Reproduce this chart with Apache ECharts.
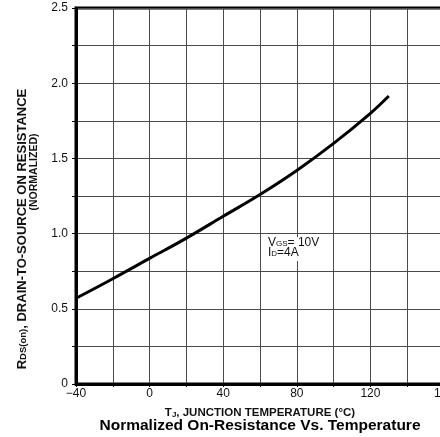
<!DOCTYPE html>
<html>
<head>
<meta charset="utf-8">
<script src="https://cdn.jsdelivr.net/npm/echarts@6/dist/echarts.min.js"></script>
<style>
  html, body {margin:0;padding:0;background:#fff;}
  #chart {width:440px;height:437px;}
</style>
</head>
<body>
<div id="chart"></div>
<script>
// junction temperature (°C) and normalized Rds(on)
const temps = [-40, -20, 0, 20, 40, 60, 80, 100, 120, 130];
const rdsOn = [0.57, 0.70, 0.835, 0.97, 1.115, 1.26, 1.42, 1.60, 1.80, 1.915];
const xLabels = ['\u221240', '0', '40', '80', '120', '160'];
const yLabels = ['0', '0.5', '1.0', '1.5', '2.0', '2.5'];

const FONT = '"Liberation Sans", Arial, sans-serif';

let chart = echarts.init(document.getElementById('chart'), null, {renderer: 'canvas'});

const txt = (size, bold) => ({
    fontFamily: FONT, fontSize: size, fontWeight: bold ? 'bold' : 'normal', color: '#111', lineHeight: 12
});
const sub = (size, bold) => Object.assign(txt(size, bold), {verticalAlign: 'bottom'});

let option = {
    animation: false,
    backgroundColor: '#fff',
    grid: {
        left: 76,
        top: 8,
        width: 368,
        height: 376,
        outerBoundsMode: 'none',
        containLabel: false,
        show: true,
        borderWidth: 3,
        borderColor: '#000'
    },
    xAxis: {
        type: 'value',
        min: -40,
        max: 160,
        interval: 20,
        name: '{a|T}{s|J}{a|, JUNCTION TEMPERATURE (°C)}',
        nameLocation: 'middle',
        nameGap: 23,
        nameTextStyle: {
            rich: {a: txt(11.5, true), s: sub(8, true)}
        },
        axisLine: {show: true, onZero: false, lineStyle: {color: '#000', width: 3}},
        axisTick: {show: true, length: 3, lineStyle: {color: '#000'}},
        axisLabel: {
            margin: 4,
            color: '#111',
            fontFamily: FONT,
            fontSize: 12,
            formatter: v => {
                if (v % 40 !== 0) return '';
                return xLabels[(v + 40) / 40];
            }
        },
        splitLine: {show: true, lineStyle: {color: '#4a4a4a', width: 1}}
    },
    yAxis: {
        type: 'value',
        min: 0,
        max: 2.5,
        interval: 0.25,
        // paddings nudge both lines down to where the original has them
        name: '{a|R}{s|DS(on)}{e|, DRAIN-TO-SOURCE ON RESISTANCE}\n{n|(NORMALIZED)}',
        nameLocation: 'middle',
        nameRotate: 90,
        nameGap: 27,
        nameTextStyle: {
            lineHeight: 12,
            rich: {
                a: txt(13, true),
                s: sub(9.5, true),
                e: Object.assign(txt(13, true), {padding: [0, 66, 0, 0]}),
                n: Object.assign(txt(10.5, true), {padding: [0, 0, 0, 48]})
            }
        },
        axisLine: {show: true, onZero: false, lineStyle: {color: '#000', width: 3}},
        axisTick: {show: true, length: 4, lineStyle: {color: '#000'}},
        axisLabel: {
            margin: 8,
            color: '#111',
            fontFamily: FONT,
            fontSize: 12,
            formatter: v => {
                let k = Math.round(v * 4);
                if (k % 2 !== 0) return '';
                return yLabels[k / 2];
            }
        },
        splitLine: {show: true, lineStyle: {color: '#4a4a4a', width: 1}}
    },
    series: [{
        type: 'line',
        data: temps.map((t, i) => [t, rdsOn[i]]),
        smooth: 0.4,
        symbol: 'none',
        lineStyle: {color: '#000', width: 3},
        z: 5
    }],
    graphic: [
        // title
        {
            type: 'text',
            x: 260,
            y: 426,
            style: {
                text: 'Normalized On-Resistance Vs. Temperature',
                align: 'center',
                verticalAlign: 'middle',
                font: 'bold 15.5px ' + FONT,
                fill: '#000'
            }
        },
        // test conditions
        {
            type: 'text',
            x: 266,
            y: 237,
            z: 10,
            style: {
                text: '{a|V}{s|GS}{a|= 10V}\n{a|I}{s|D}{a|=4A}',
                backgroundColor: '#fff',
                padding: [1, 2, 3, 2],
                lineHeight: 10,
                rich: {
                    a: {fontFamily: FONT, fontSize: 12, fill: '#111', lineHeight: 10},
                    s: {fontFamily: FONT, fontSize: 8, fill: '#111', verticalAlign: 'bottom', lineHeight: 10}
                }
            }
        }
    ]
};

chart.setOption(option);
</script>
</body>
</html>
